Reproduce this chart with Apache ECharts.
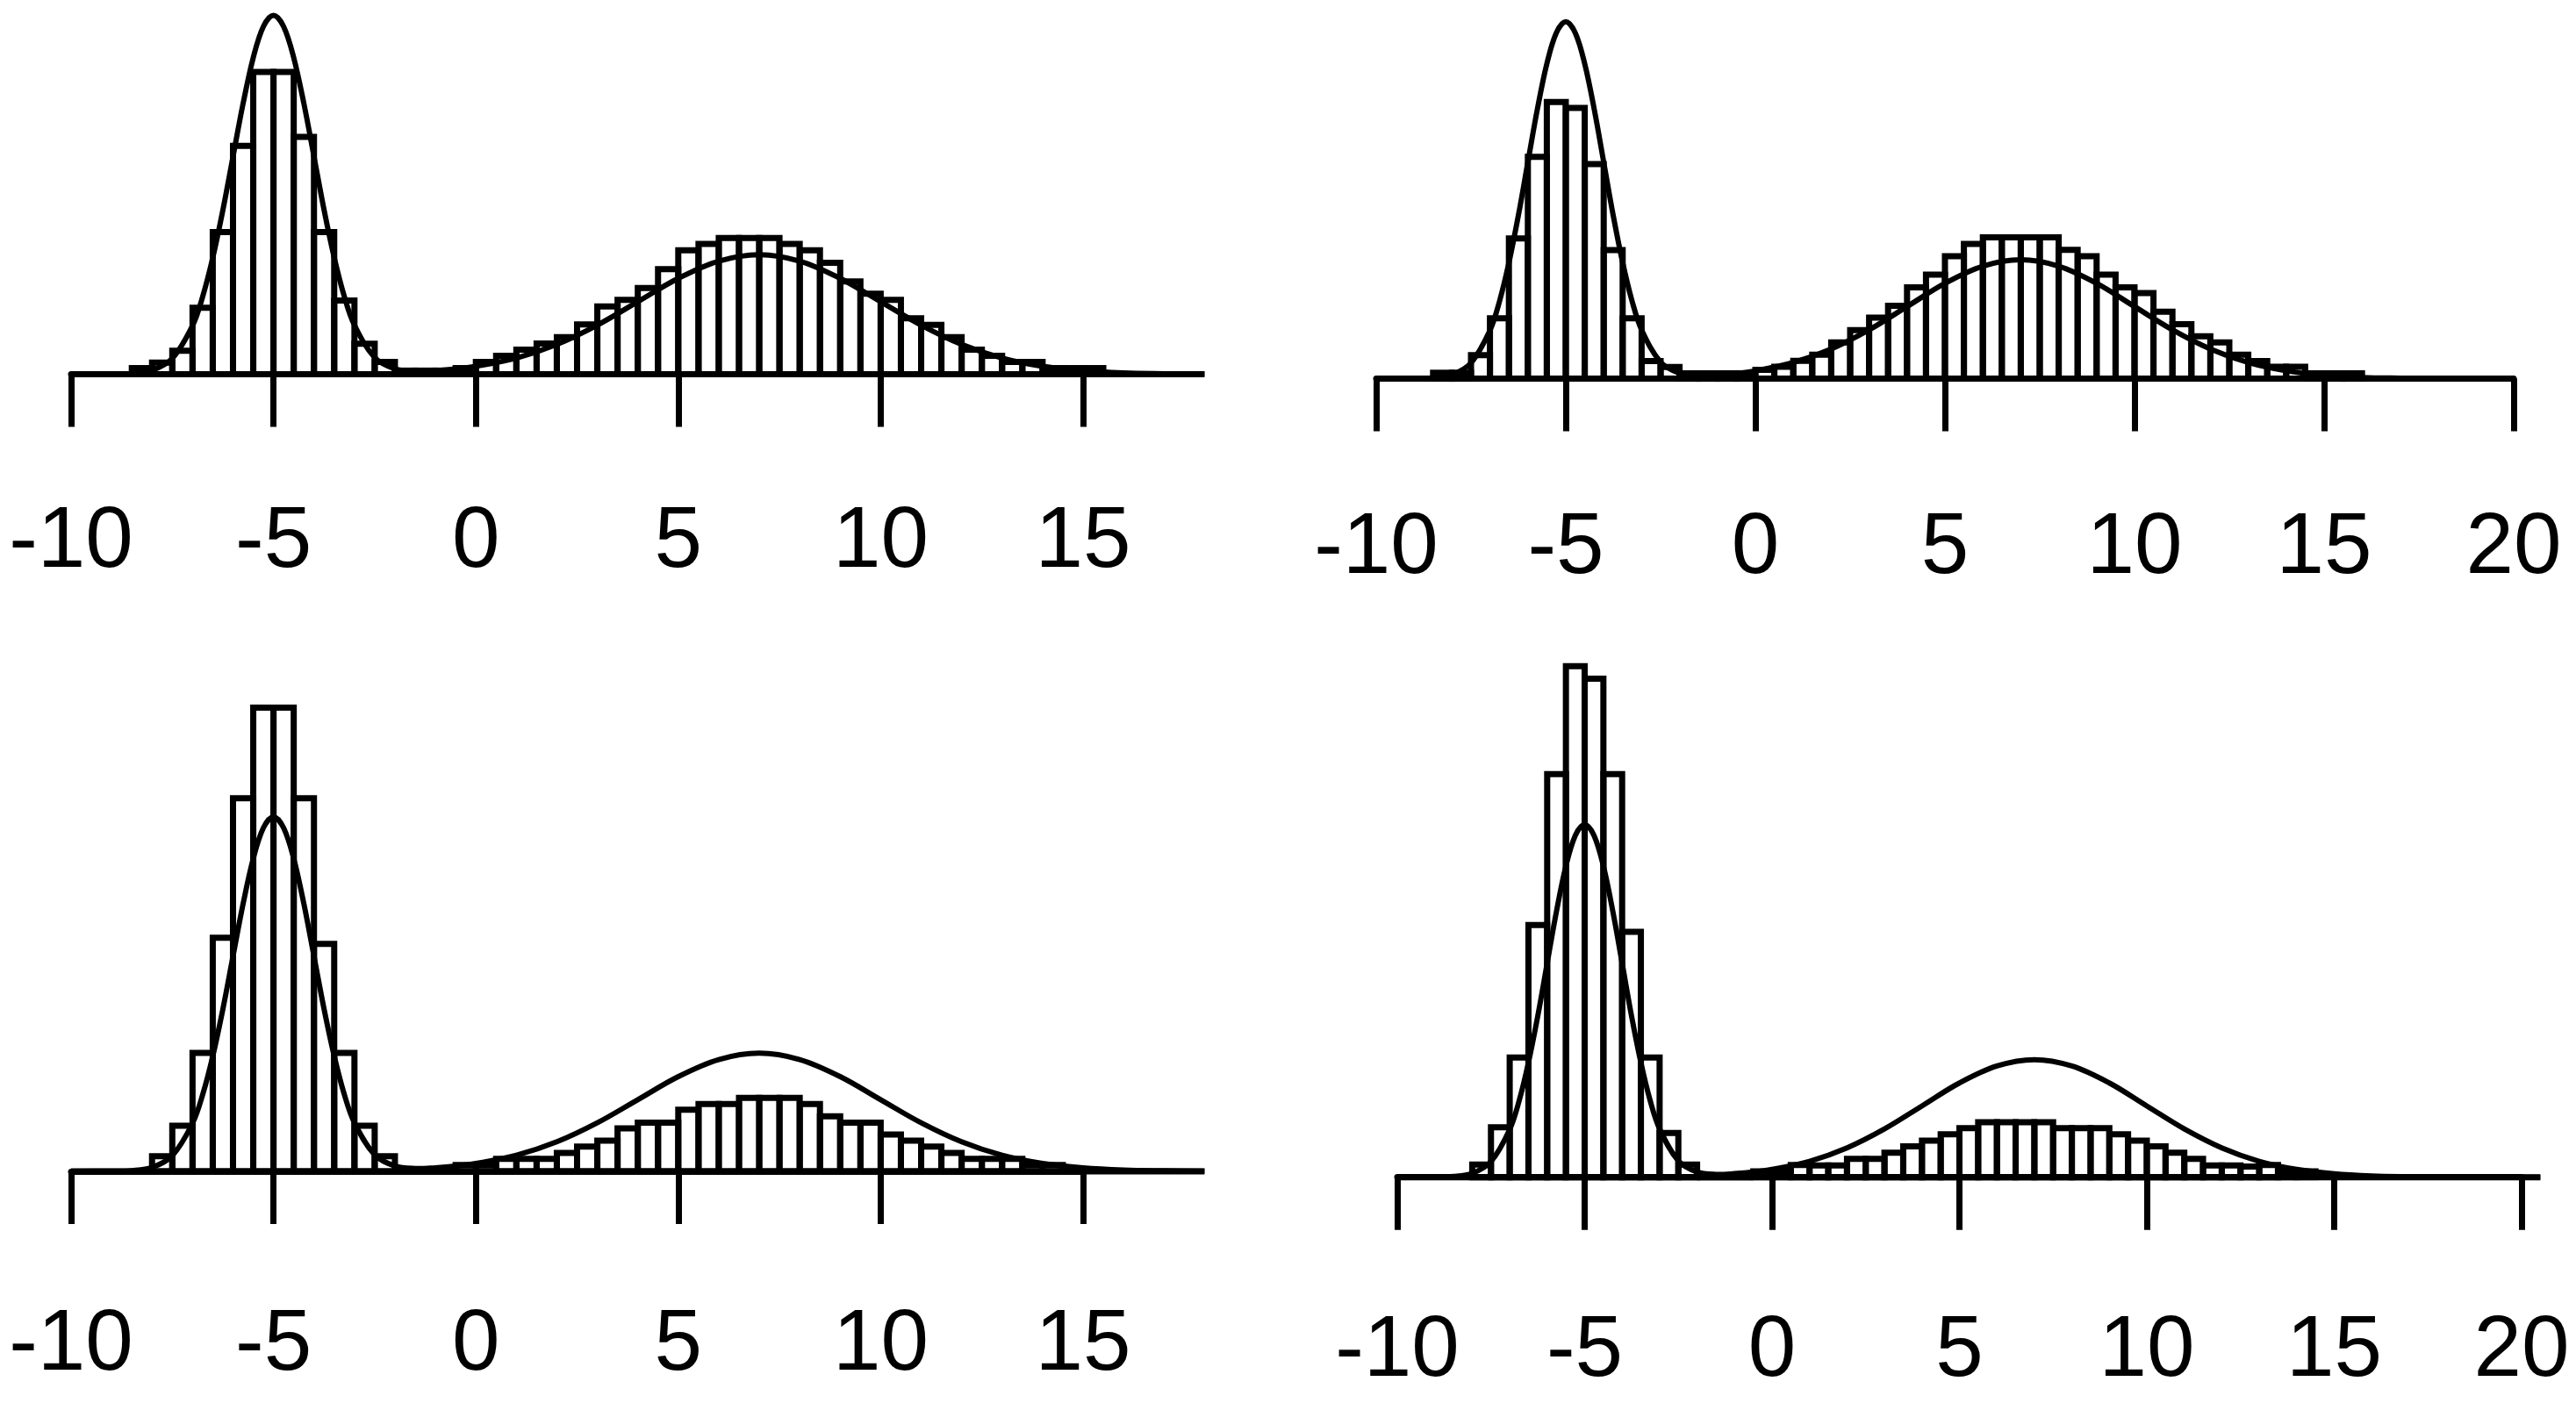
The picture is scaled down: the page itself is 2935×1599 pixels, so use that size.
<!DOCTYPE html>
<html>
<head>
<meta charset="utf-8">
<title>Histograms with density curve</title>
<script src="https://cdn.jsdelivr.net/npm/echarts@6/dist/echarts.min.js"></script>
<style>
  html, body { margin: 0; padding: 0; background: #fff; }
  #chart { width: 2935px; height: 1599px; }
</style>
</head>
<body>
<div id="chart"></div>
<script>
  // bin width of every histogram
  var binWidth = 0.5;

  // density curve (same curve in all four panels)
  var curveX = [-10, -9, -8.5, -8, -7.5, -7, -6.75, -6.5, -6.25, -6, -5.75, -5.5, -5.25, -5,
    -4.75, -4.5, -4.25, -4, -3.75, -3.5, -3.25, -3, -2.5, -2, -1.5, -1, -0.5, 0, 1, 2, 3, 4, 5,
    6, 7, 8, 9, 10, 11, 12, 13, 14, 15, 16, 17, 18, 19, 20, 20.5];
  var curveY = [0, 0.0001, 0.0004, 0.0022, 0.0088, 0.027, 0.0431, 0.0648, 0.0913, 0.121, 0.1506, 0.176, 0.1933, 0.1995,
    0.1933, 0.176, 0.1506, 0.1211, 0.0913, 0.0649, 0.0432, 0.0273, 0.0093, 0.003, 0.0016, 0.002, 0.0029, 0.0044, 0.009, 0.0166, 0.0273, 0.0403, 0.0533,
    0.0629, 0.0665, 0.0629, 0.0533, 0.0403, 0.0273, 0.0166, 0.009, 0.0044, 0.0019, 0.0007, 0.0003, 0.0001, 0, 0, 0];

  // bar heights (density), first bin starts at *Start
  var tlStart = -8.5;
  var tlHeights = [0.0034, 0.0065, 0.013, 0.037, 0.079, 0.127, 0.168, 0.168, 0.132, 0.079, 0.041, 0.017, 0.0068,
    0.002, 0.002, 0.002, 0.0034, 0.0068, 0.0102, 0.0137, 0.0171, 0.0206, 0.0277, 0.0377, 0.0413, 0.0479, 0.0584,
    0.0689, 0.0725, 0.0757, 0.0757, 0.0757, 0.0725, 0.0689, 0.062, 0.0516, 0.0448, 0.0413, 0.0311, 0.0275, 0.0206,
    0.0137, 0.0102, 0.0068, 0.0068, 0.0034, 0.0034, 0.0034];

  var trStart = -8.5;
  var trHeights = [0.0033, 0.0033, 0.0131, 0.0338, 0.0784, 0.124, 0.1546, 0.1513, 0.12, 0.0719, 0.0338, 0.0098, 0.0065,
    0.003, 0.003, 0.003, 0.003, 0.005, 0.0067, 0.01, 0.0134, 0.0203, 0.0271, 0.0341, 0.0408, 0.0511, 0.0582,
    0.0685, 0.0753, 0.079, 0.079, 0.079, 0.079, 0.072, 0.0685, 0.0582, 0.0511, 0.0479, 0.0374, 0.0305, 0.0237,
    0.0203, 0.0134, 0.0098, 0.0067, 0.0067, 0.003, 0.003, 0.003];

  var blStart = -8;
  var blHeights = [0.0085, 0.0256, 0.0666, 0.1315, 0.21, 0.261, 0.261, 0.21, 0.128, 0.0666, 0.0256, 0.0085,
    0, 0, 0, 0.0036, 0.0036, 0.007, 0.007, 0.007, 0.0103, 0.0139, 0.0172, 0.0242, 0.0274, 0.0274, 0.0346,
    0.0379, 0.0379, 0.0413, 0.0413, 0.0413, 0.0379, 0.031, 0.0274, 0.0274, 0.0207, 0.0172, 0.0139, 0.0103,
    0.007, 0.007, 0.007, 0.0036, 0.0036];

  var brStart = -8;
  var brHeights = [0.0072, 0.0282, 0.0677, 0.1426, 0.228, 0.289, 0.282, 0.228, 0.1388, 0.0677, 0.025, 0.0072,
    0, 0, 0, 0.0033, 0.0033, 0.0069, 0.0066, 0.0066, 0.0104, 0.0104, 0.0139, 0.0174, 0.0207, 0.0243, 0.0278,
    0.0311, 0.0311, 0.0311, 0.0311, 0.0278, 0.0278, 0.0278, 0.0243, 0.0207, 0.0174, 0.0139, 0.0104, 0.0066,
    0.0066, 0.006, 0.0069, 0.0033, 0.0033];

  // x axis ranges (ticks every 5) and where the zero line of each histogram ends
  var tlAxis = [-10, 15], trAxis = [-10, 20], blAxis = [-10, 15], brAxis = [-10, 20];
  var tlBase = [-10, 18], trBase = [-10, 19.5], blBase = [-10, 18], brBase = [-10, 20.5];

  var panels = [
    { start: tlStart, heights: tlHeights, axis: tlAxis, base: tlBase, yMin: -0.01, yMax: 0.2,
      grid: { left: 81, top: 16.5, width: 1153, height: 430.5 }, labelMargin: 123 },
    { start: trStart, heights: trHeights, axis: trAxis, base: trBase, yMin: -0.011, yMax: 0.2,
      grid: { left: 1568, top: 23.8, width: 1296, height: 430.2 }, labelMargin: 123 },
    { start: blStart, heights: blHeights, axis: blAxis, base: blBase, yMin: -0.0104, yMax: 0.3,
      grid: { left: 81, top: 727.4, width: 1153, height: 628.6 }, labelMargin: 129 },
    { start: brStart, heights: brHeights, axis: brAxis, base: brBase, yMin: -0.0106, yMax: 0.3,
      grid: { left: 1592, top: 737.2, width: 1281, height: 625.8 }, labelMargin: 129 }
  ];

  var lw = 7;
  var grids = [], xAxes = [], yAxes = [], series = [];

  panels.forEach(function (p, i) {
    grids.push({ left: p.grid.left, top: p.grid.top, width: p.grid.width, height: p.grid.height,
      containLabel: false, outerBoundsMode: 'none' });
    xAxes.push({
      type: 'value', gridIndex: i, min: p.axis[0], max: p.axis[1], interval: 5,
      axisLine: { show: true, lineStyle: { color: '#000', width: lw } },
      axisTick: { show: true, length: 60, inside: false, lineStyle: { color: '#000', width: lw } },
      axisLabel: { show: true, color: '#000', fontSize: 98, lineHeight: 98, margin: p.labelMargin,
        fontFamily: 'Liberation Sans, Arial, sans-serif' },
      splitLine: { show: false }
    });
    yAxes.push({ type: 'value', gridIndex: i, min: p.yMin, max: p.yMax, show: false });

    // histogram bars
    var bars = p.heights.map(function (h, k) {
      var x0 = p.start + k * binWidth;
      return [x0, x0 + binWidth, h];
    });
    series.push({
      type: 'custom', xAxisIndex: i, yAxisIndex: i, clip: false, silent: true,
      encode: { x: [0, 1], y: 2 },
      data: bars,
      renderItem: function (params, api) {
        var a = api.coord([api.value(0), api.value(2)]);
        var b = api.coord([api.value(1), 0]);
        return {
          type: 'rect',
          shape: { x: a[0], y: a[1], width: b[0] - a[0], height: b[1] - a[1] },
          style: { fill: 'none', stroke: '#000', lineWidth: lw }
        };
      }
    });

    // zero line of the histogram (runs past the last tick)
    series.push({
      type: 'custom', xAxisIndex: i, yAxisIndex: i, clip: false, silent: true,
      encode: { x: [0, 1] },
      data: [[p.base[0], p.base[1]]],
      renderItem: function (params, api) {
        var a = api.coord([api.value(0), 0]);
        var b = api.coord([api.value(1), 0]);
        return {
          type: 'line',
          shape: { x1: a[0], y1: a[1], x2: b[0], y2: b[1] },
          style: { stroke: '#000', lineWidth: lw }
        };
      }
    });

    // density curve
    var pts = [];
    curveX.forEach(function (x, k) {
      if (x <= p.base[1]) pts.push([x, curveY[k]]);
    });
    series.push({
      type: 'custom', xAxisIndex: i, yAxisIndex: i, clip: false, silent: true,
      encode: { x: 0, y: 1 },
      data: pts,
      renderItem: function (params, api) {
        if (params.dataIndex !== 0) return null;
        var path = pts.map(function (d) { return api.coord(d); });
        return {
          type: 'polyline',
          shape: { points: path, smooth: 0.35 },
          style: { fill: 'none', stroke: '#000', lineWidth: 6 }
        };
      }
    });
  });

  var myChart = echarts.init(document.getElementById('chart'), null, { renderer: 'canvas' });
  myChart.setOption({
    animation: false,
    backgroundColor: '#fff',
    grid: grids,
    xAxis: xAxes,
    yAxis: yAxes,
    series: series
  });
</script>
</body>
</html>
